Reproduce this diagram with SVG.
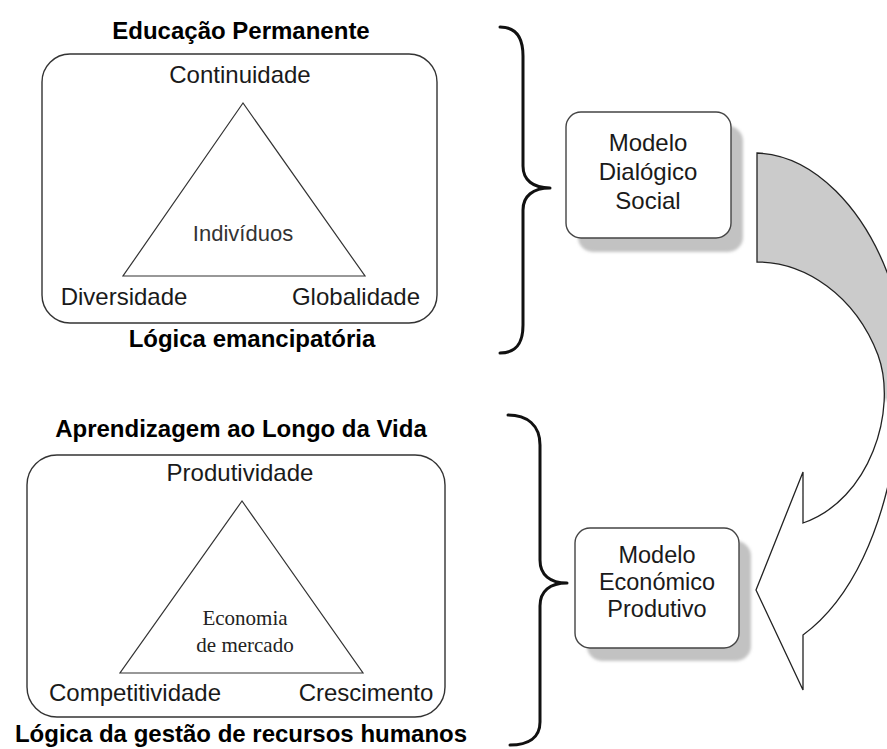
<svg xmlns="http://www.w3.org/2000/svg" width="887" height="749" viewBox="0 0 887 749">
<style>
.frame{fill:none;stroke:#333;stroke-width:1.4}
.tri{fill:none;stroke:#333;stroke-width:1.2}
.brace{fill:none;stroke:#111;stroke-width:3;stroke-linecap:round;stroke-linejoin:round}
.box{fill:#fff;stroke:#444;stroke-width:1.4}
.shadow{fill:#c2c2c2;filter:url(#blur)}
.t{font-family:"Liberation Sans",Arial,sans-serif;font-size:24px;fill:#1a1a1a;text-anchor:middle}
.b{font-family:"Liberation Sans",Arial,sans-serif;font-size:24px;font-weight:bold;fill:#000;text-anchor:middle}
.s{font-family:"Liberation Serif","Times New Roman",serif;font-size:21px;fill:#222;text-anchor:middle}
.m{font-family:"Liberation Sans",Arial,sans-serif;font-size:23.5px;fill:#1a1a1a;text-anchor:middle}
</style>
<defs>
<filter id="blur" x="-10%" y="-10%" width="120%" height="120%"><feGaussianBlur stdDeviation="1.5"/></filter>
<linearGradient id="arrowFill" gradientUnits="userSpaceOnUse" x1="0" y1="150" x2="0" y2="700">
<stop offset="0" stop-color="#cbcbcb"/>
<stop offset="0.45" stop-color="#cbcbcb"/>
<stop offset="0.46" stop-color="#ffffff"/>
<stop offset="1" stop-color="#ffffff"/>
</linearGradient>
</defs>

<g id="educacao-permanente">
<text class="b" x="241" y="39">Educação Permanente</text>
<rect class="frame" x="42" y="54" width="395" height="269" rx="28"/>
<polygon class="tri" points="243,103 123,276 365,276"/>
<text class="t" x="240" y="83">Continuidade</text>
<text class="t" x="243" y="241" style="font-size:22px;fill:#333">Indivíduos</text>
<text class="t" x="124" y="305">Diversidade</text>
<text class="t" x="356" y="305">Globalidade</text>
<text class="b" x="252" y="347">Lógica emancipatória</text>
</g>

<g id="aprendizagem">
<text class="b" x="241" y="437">Aprendizagem ao Longo da Vida</text>
<rect class="frame" x="27" y="455" width="418" height="262" rx="30"/>
<polygon class="tri" points="242,501 120,673 363,673"/>
<text class="t" x="240" y="481">Produtividade</text>
<text class="s" x="245" y="625">Economia</text>
<text class="s" x="245" y="652">de mercado</text>
<text class="t" x="135" y="701">Competitividade</text>
<text class="t" x="366" y="701">Crescimento</text>
<text class="b" x="241" y="742">Lógica da gestão de recursos humanos</text>
</g>

<g id="modelo-dialogico">
<rect class="shadow" x="578" y="126" width="165" height="126" rx="15"/>
<rect class="box" x="566" y="112" width="165" height="126" rx="15"/>
<text class="t" x="648" y="151">Modelo</text>
<text class="t" x="648" y="180">Dialógico</text>
<text class="t" x="648" y="209">Social</text>
</g>

<g id="modelo-economico">
<rect class="shadow" x="587" y="541" width="164" height="120" rx="15"/>
<rect class="box" x="575" y="528" width="164" height="120" rx="15"/>
<text class="m" x="657" y="563">Modelo</text>
<text class="m" x="657" y="590">Económico</text>
<text class="m" x="657" y="617">Produtivo</text>
</g>

<g id="connectors">
<path class="brace" d="M500,27 C515,27 523,36 523,56 L523,166 C523,180 533,188 550,188 C533,188 523,196 523,210 L523,325 C523,345 515,353 500,353"/>
<path class="brace" d="M508,415 C527,415 540,425 540,445 L540,560 C540,575 550,583 567,583 C550,583 540,591 540,606 L540,722 C540,738 528,745 510,745"/>
<path d="M757,153 C815,155 865,210 890,280 C915,350 905,560 803,635 L803,690 L756,590 L803,472 L803,523 C870,500 898,410 878,355 C855,295 805,262 757,262 Z" fill="url(#arrowFill)" stroke="#222" stroke-width="1.3" stroke-linejoin="miter"/>
</g>
</svg>
